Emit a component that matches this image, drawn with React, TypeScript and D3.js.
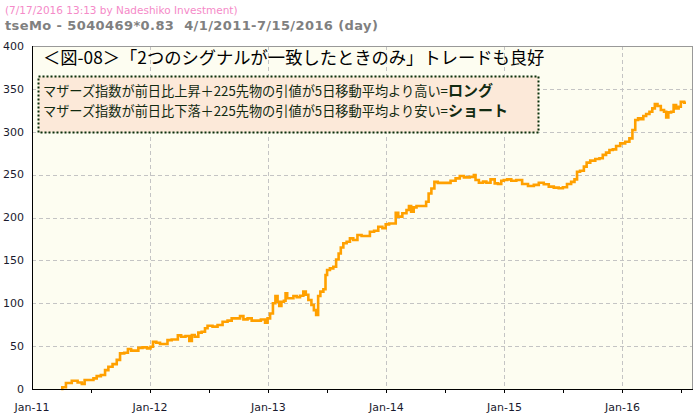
import React from "react";
import * as d3 from "d3";

const W = 697;
const H = 417;

// x positions as decimal years, values in points
const DATES = [
  2011.247, 2011.266, 2011.309, 2011.365, 2011.408, 2011.436, 2011.456, 2011.507, 2011.534, 2011.562,
  2011.605, 2011.633, 2011.661, 2011.704, 2011.732, 2011.760, 2011.803, 2011.822, 2011.858, 2011.887,
  2011.915, 2011.957, 2011.994, 2012.014, 2012.036, 2012.070, 2012.099, 2012.126, 2012.169, 2012.197,
  2012.225, 2012.245, 2012.281, 2012.318, 2012.346, 2012.361, 2012.394, 2012.422, 2012.450, 2012.479,
  2012.493, 2012.507, 2012.549, 2012.592, 2012.634, 2012.676, 2012.704, 2012.746, 2012.775, 2012.803,
  2012.845, 2012.873, 2012.915, 2012.958, 2012.986, 2013.000, 2013.029, 2013.048, 2013.071, 2013.085,
  2013.099, 2013.122, 2013.141, 2013.150, 2013.169, 2013.198, 2013.226, 2013.254, 2013.282, 2013.310,
  2013.324, 2013.353, 2013.376, 2013.395, 2013.414, 2013.429, 2013.452, 2013.480, 2013.488, 2013.507,
  2013.536, 2013.564, 2013.584, 2013.606, 2013.621, 2013.649, 2013.677, 2013.705, 2013.733, 2013.776,
  2013.803, 2013.846, 2013.874, 2013.917, 2013.945, 2013.987, 2014.001, 2014.044, 2014.072, 2014.086,
  2014.114, 2014.156, 2014.184, 2014.198, 2014.221, 2014.241, 2014.269, 2014.325, 2014.348, 2014.367,
  2014.395, 2014.418, 2014.452, 2014.522, 2014.565, 2014.607, 2014.636, 2014.678, 2014.734, 2014.748,
  2014.762, 2014.805, 2014.833, 2014.861, 2014.903, 2014.932, 2014.959, 2014.987, 2015.002, 2015.044,
  2015.072, 2015.129, 2015.171, 2015.228, 2015.270, 2015.312, 2015.354, 2015.397, 2015.439, 2015.481,
  2015.509, 2015.551, 2015.579, 2015.608, 2015.622, 2015.659, 2015.687, 2015.706, 2015.748, 2015.791,
  2015.819, 2015.847, 2015.875, 2015.904, 2015.932, 2015.960, 2016.002, 2016.044, 2016.073, 2016.095,
  2016.121, 2016.143, 2016.166, 2016.186, 2016.214, 2016.242, 2016.262, 2016.285, 2016.307, 2016.341,
  2016.361, 2016.378, 2016.397, 2016.425, 2016.439, 2016.467, 2016.482, 2016.504, 2016.537,
];

const VALUES = [
  0, 2, 7, 9.7, 7.5, 6, 10.5, 10.5, 12.4, 15,
  16.3, 22, 26, 29, 34, 41.6, 42.3, 46.6, 44.7, 44.7,
  48, 48.6, 47.4, 49.3, 55, 54, 52.5, 52.5, 57, 57.8,
  57.8, 62.5, 61, 61.8, 56, 63, 61, 65.7, 66.8, 70.8,
  73.8, 73.8, 72.7, 74.6, 78.5, 79.7, 82.4, 82.4, 85, 81.2,
  82.4, 79.7, 79.7, 81, 77.3, 82.4, 88, 100, 108.5, 101.8,
  96.8, 101.8, 103, 111.6, 105.8, 105.8, 108.5, 107, 108.8, 113.5,
  110, 103.8, 98, 92, 86.3, 108.5, 113.5, 116.3, 133, 138.8,
  140.7, 142.6, 151, 158, 165, 170, 171.8, 175.7, 173.8, 179.6,
  178.4, 178.4, 183.4, 184.6, 189.3, 187.4, 192, 193, 193, 205.6,
  201, 205, 208.7, 213.4, 206.8, 211.8, 213.4, 213.4, 218.4, 228,
  233.8, 241.6, 240.4, 240.4, 242.8, 245.6, 248.4, 246.8, 247.4, 249.6,
  243.7, 240.6, 241.8, 240.6, 244.5, 239.8, 239, 242.9, 243.7, 244.5,
  242.9, 243.7, 239, 236.7, 238, 240.6, 238.8, 236, 234.8, 234.1,
  235.3, 239, 241.6, 244.5, 253.4, 254.6, 259.3, 264, 266.3, 268.3,
  269.1, 273, 275.6, 278.7, 279.5, 283.4, 286.5, 288.4, 292.3, 302,
  313.7, 315.6, 314.5, 318.4, 320.7, 323.4, 327.3, 332.4, 330, 325.4,
  323.4, 316.8, 322.6, 323.4, 331.2, 327.3, 329.2, 335, 333.9,
];

const Y_TICKS = [0, 50, 100, 150, 200, 250, 300, 350, 400];
const X_LABEL_YEARS = [2011, 2012, 2013, 2014, 2015, 2016];
const X_DOMAIN = ["2011-01-01", "2016-08-03"];

const HEADER_1 = "(7/17/2016 13:13 by Nadeshiko Investment)";
const HEADER_2 = "tseMo - 5040469*0.83  4/1/2011-7/15/2016 (day)";
const TITLE = "＜図-08＞「2つのシグナルが一致したときのみ」トレードも良好";
const LEGEND_1A = "マザーズ指数が前日比上昇＋225先物の引値が5日移動平均より高い=";
const LEGEND_1B = "ロング";
const LEGEND_2A = "マザーズ指数が前日比下落＋225先物の引値が5日移動平均より安い=";
const LEGEND_2B = "ショート";

function toDate(y: number): Date {
  const yr = Math.floor(y);
  const a = new Date(yr, 0, 1).getTime();
  const b = new Date(yr + 1, 0, 1).getTime();
  return new Date(a + (y - yr) * (b - a));
}

const M = { left: 32, right: 692, top: 46, bottom: 389 };

export default function App() {
  const x = d3
    .scaleTime()
    .domain([new Date(X_DOMAIN[0] + "T00:00:00"), new Date(X_DOMAIN[1] + "T00:00:00")])
    .range([M.left, M.right]);
  const y = d3.scaleLinear().domain([0, 400]).range([M.bottom, M.top]);

  const pts = DATES.map((d, i) => [toDate(d), VALUES[i]] as [Date, number]);
  const line = d3
    .line<[Date, number]>()
    .x((d) => x(d[0]))
    .y((d) => y(d[1]))
    .curve(d3.curveStep);

  const halfYears: Date[] = [];
  for (let yr = 2011; yr <= 2016; yr++) {
    halfYears.push(new Date(yr, 0, 1), new Date(yr, 6, 1));
  }
  const minorTicks = halfYears.filter((d) => x(d) > M.left + 1 && x(d) <= M.right);
  const yearLines = X_LABEL_YEARS.filter((yr) => yr > 2011).map((yr) => new Date(yr, 0, 1));

  const font = "'DejaVu Sans', Verdana, sans-serif";
  const jp = "'Noto Sans CJK JP', 'Noto Sans', sans-serif";

  return (
    <div style={{ position: "fixed", left: 0, top: 0, width: W, height: H, background: "#fff" }}>
      <svg width={W} height={H} style={{ display: "block" }}>
        <rect x={0} y={0} width={W} height={H} fill="#ffffff" />
        <text x={5} y={14} fontFamily={font} fontSize={10.5} fill="#f58ac8">
          {HEADER_1}
        </text>
        <text
          x={5}
          y={30}
          fontFamily={font}
          fontSize={13}
          fontWeight="bold"
          fill="#808080"
          letterSpacing={0.4}
          style={{ whiteSpace: "pre" }}
        >
          {HEADER_2}
        </text>

        {/* plot background */}
        <rect x={M.left} y={M.top} width={M.right - M.left} height={M.bottom - M.top} fill="#fdfdf1" />

        {/* horizontal grid */}
        {Y_TICKS.filter((t) => t > 0 && t < 400).map((t) => (
          <line
            key={"h" + t}
            x1={M.left}
            x2={M.right}
            y1={Math.round(y(t)) + 0.5}
            y2={Math.round(y(t)) + 0.5}
            stroke="#c4c4c4"
            strokeDasharray="4,3"
          />
        ))}
        {/* vertical grid */}
        {yearLines.map((d, i) => (
          <line
            key={"v" + i}
            x1={Math.round(x(d)) + 0.5}
            x2={Math.round(x(d)) + 0.5}
            y1={M.top}
            y2={M.bottom}
            stroke="#c4c4c4"
            strokeDasharray="4,3"
          />
        ))}

        {/* top & right borders */}
        <line x1={M.left} x2={M.right} y1={M.top + 0.5} y2={M.top + 0.5} stroke="#999" />
        <line x1={M.right + 0.5} x2={M.right + 0.5} y1={M.top} y2={M.bottom} stroke="#999" />

        {/* legend box */}
        <rect x={38.5} y={76.5} width={500} height={56} fill="#fce9d9" stroke="#0b300b" strokeWidth={2} strokeDasharray="2,2" />

        <text x={43} y={63.5} fontFamily={jp} fontSize={17.3} fill="#000">
          {TITLE}
        </text>
        <text x={43} y={96} fontFamily={jp} fontSize={13.2} fill="#112a11">
          {LEGEND_1A}
          <tspan fontSize={15} fontWeight="bold">{LEGEND_1B}</tspan>
        </text>
        <text x={43} y={115.5} fontFamily={jp} fontSize={13.2} fill="#112a11">
          {LEGEND_2A}
          <tspan fontSize={15} fontWeight="bold">{LEGEND_2B}</tspan>
        </text>

        {/* series */}
        <path d={line(pts) || ""} fill="none" stroke="#ffa000" strokeWidth={2.6} strokeLinejoin="miter" />

        {/* axes */}
        <line x1={M.left + 0.5} x2={M.left + 0.5} y1={M.top} y2={M.bottom + 1} stroke="#000" />
        <line x1={M.left} x2={M.right + 1} y1={M.bottom + 0.5} y2={M.bottom + 0.5} stroke="#000" />
        {minorTicks.map((d, i) => (
          <line
            key={"t" + i}
            x1={Math.round(x(d)) + 0.5}
            x2={Math.round(x(d)) + 0.5}
            y1={M.bottom}
            y2={M.bottom + 4}
            stroke="#000"
          />
        ))}

        {Y_TICKS.map((t) => (
          <text
            key={"yl" + t}
            x={24}
            y={y(t)}
            dy="0.35em"
            textAnchor="end"
            fontFamily={font}
            fontSize={11}
            fill="#1a1a2e"
          >
            {t}
          </text>
        ))}
        {X_LABEL_YEARS.map((yr) => (
          <text
            key={"xl" + yr}
            x={x(new Date(yr, 0, 1))}
            y={411}
            textAnchor="middle"
            fontFamily={font}
            fontSize={11}
            fill="#1a1a2e"
          >
            {d3.timeFormat("%b-%y")(new Date(yr, 0, 1))}
          </text>
        ))}
      </svg>
    </div>
  );
}
